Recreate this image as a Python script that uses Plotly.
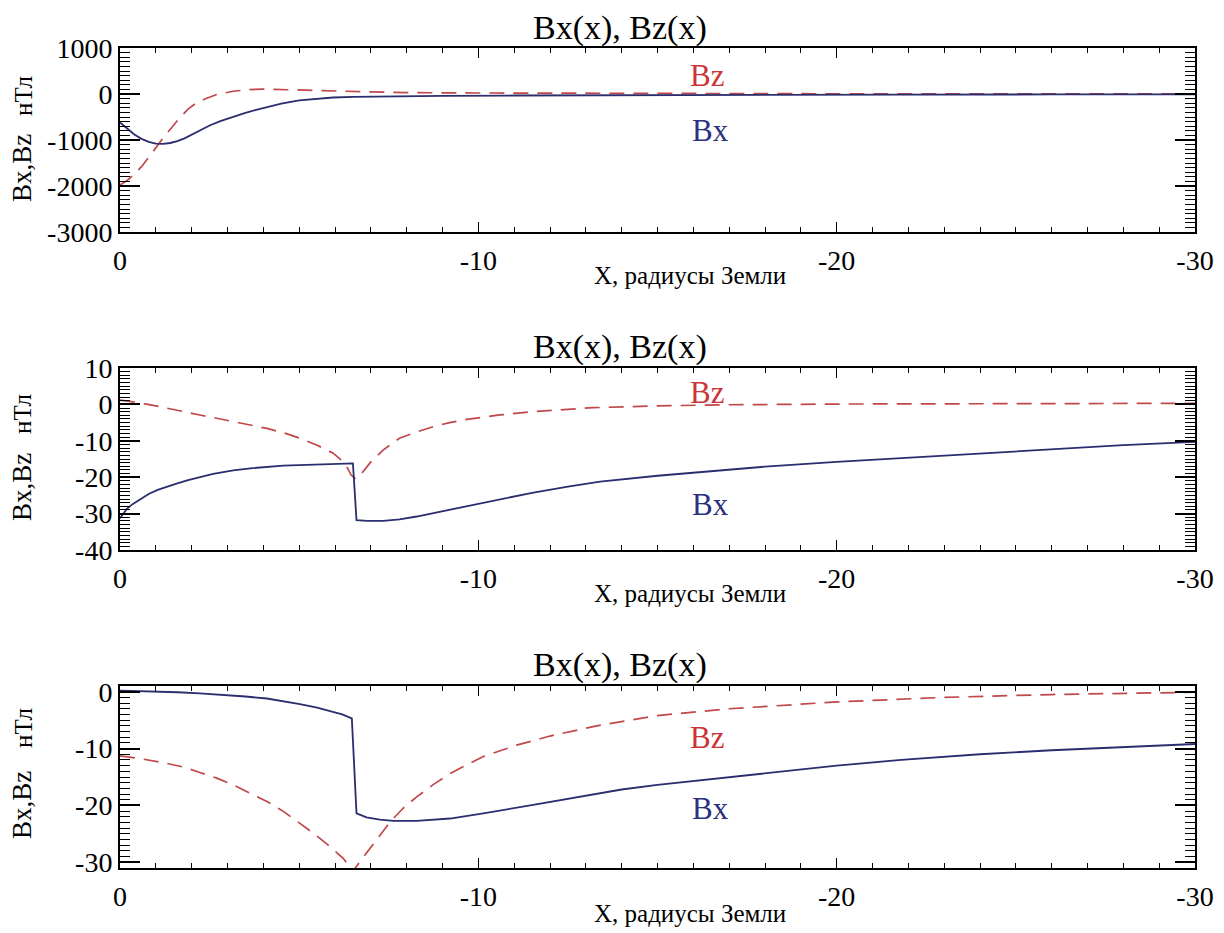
import plotly.graph_objects as go

# ---------------- data ----------------
# Panel 1
p1_bx_x = [0, -0.2, -0.4, -0.6, -0.8, -1.0, -1.2, -1.4, -1.6, -1.8, -2.0, -2.23, -2.5, -2.8, -3.16, -3.5, -3.8, -4.1, -4.5, -5.0, -5.5, -5.95, -6.5, -7, -8, -9, -11, -14, -18, -22, -26, -30]
p1_bx_y = [-620, -760, -880, -975, -1040, -1080, -1085, -1065, -1025, -965, -885, -785, -685, -590, -490, -410, -345, -285, -210, -138, -97, -76, -63, -56, -47, -41, -33, -25, -18, -13, -10, -8]
p1_bz_x = [0, -0.2, -0.4, -0.6, -0.8, -1.0, -1.2, -1.4, -1.67, -1.9, -2.1, -2.42, -2.7, -3.16, -3.6, -4.0, -4.5, -5.0, -5.5, -6.0, -6.9, -8, -10, -12, -15, -20, -25, -30]
p1_bz_y = [-1980, -1880, -1740, -1580, -1380, -1160, -960, -770, -510, -330, -210, -93, -10, 60, 95, 105, 100, 90, 78, 65, 42, 30, 22, 16, 10, 5, 2, 1]

# Panel 2
p2_bx_x = [0, -0.1, -0.2, -0.35, -0.56, -0.8, -1.05, -1.3, -1.6, -1.9, -2.23, -2.6, -3.16, -3.7, -4.56, -5.3, -5.95, -6.5, -6.6, -6.9, -7.35, -7.8, -8.28, -8.84, -8.95, -9.67, -10.6, -11.5, -12.5, -13.4, -15, -16.2, -18, -20, -22, -24, -26, -28, -30]
p2_bx_y = [-31.3, -29.8, -28.6, -27.4, -26.0, -24.6, -23.5, -22.6, -21.7, -20.8, -19.9, -19.1, -18.1, -17.5, -16.8, -16.5, -16.35, -16.2, -31.8, -32.0, -32.0, -31.6, -30.8, -29.7, -29.5, -28.1, -26.1, -24.3, -22.6, -21.2, -19.6, -18.6, -17.1, -15.8, -14.6, -13.4, -12.3, -11.2, -10.3]
p2_bz_x = [0, -0.5, -1.1, -1.6, -2.23, -2.7, -3.16, -3.6, -4.1, -4.6, -5.02, -5.5, -5.95, -6.15, -6.33, -6.45, -6.58, -6.75, -7.0, -7.35, -7.8, -8.3, -8.75, -9.2, -9.68, -10.6, -11.5, -12.5, -13.2, -15, -17, -20, -25, -30]
p2_bz_y = [1.2, 0.5, -0.6, -1.7, -2.9, -3.8, -4.7, -5.6, -6.6, -7.9, -9.3, -11.2, -13.4, -15.1, -17.1, -19.4, -20.5, -18.9, -15.8, -12.5, -9.3, -7.5, -6.1, -5.0, -4.1, -2.9, -2.0, -1.35, -0.9, -0.4, -0.1, 0.1, 0.2, 0.3]

# Panel 3
p3_bx_x = [0, -1.0, -1.6, -2.23, -2.8, -3.5, -4.1, -4.5, -5.02, -5.5, -5.95, -6.2, -6.47, -6.6, -6.88, -7.25, -7.63, -8.28, -9.21, -10.14, -11.53, -12.93, -14.0, -15, -16.2, -18, -20, -21.8, -24, -26, -28, -30]
p3_bx_y = [0.2, 0.05, -0.1, -0.3, -0.5, -0.85, -1.2, -1.6, -2.2, -2.8, -3.5, -4.0, -4.7, -21.4, -22.1, -22.5, -22.7, -22.7, -22.3, -21.4, -19.9, -18.3, -17.2, -16.4, -15.6, -14.3, -13.0, -12.0, -11.0, -10.3, -9.7, -9.2]
p3_bz_x = [0, -0.6, -1.3, -1.8, -2.23, -2.7, -3.16, -3.6, -4.1, -4.55, -5.02, -5.4, -5.76, -6.0, -6.23, -6.53, -6.56, -6.85, -7.16, -7.54, -7.9, -8.28, -8.75, -9.21, -9.7, -10.14, -11.07, -12.0, -13.3, -15, -17, -20, -23, -26, -30]
p3_bz_y = [-11.3, -11.8, -12.6, -13.3, -14.2, -15.2, -16.4, -17.7, -19.3, -21.0, -23.1, -24.9, -26.7, -28.0, -29.3, -31.8, -31.05, -28.6, -26.1, -22.9, -20.5, -18.5, -16.3, -14.4, -12.8, -11.4, -9.4, -7.8, -6.0, -4.2, -3.0, -1.8, -1.0, -0.5, -0.1]

x_tick_vals = [0, -10, -20, -30]
x_tick_text = ["0", "-10", "-20", "-30"]
y_tick_vals = [
    [1000, 0, -1000, -2000, -3000],
    [10, 0, -10, -20, -30, -40],
    [0, -10, -20, -30],
]
y_tick_text = [
    ["1000", "0", "-1000", "-2000", "-3000"],
    ["10", "0", "-10", "-20", "-30", "-40"],
    ["0", "-10", "-20", "-30"],
]
y_ranges = [[-3000, 1000], [-40, 10], [-31, 1]]
y_minor = [100, 1, 1]
title_text = "Bx(x), Bz(x)"
x_title = "X, радиусы Земли"
y_title_a = "Bx,Bz"
y_title_b = "нТл"

panels = [
    (p1_bx_x, p1_bx_y, p1_bz_x, p1_bz_y),
    (p2_bx_x, p2_bx_y, p2_bz_x, p2_bz_y),
    (p3_bx_x, p3_bx_y, p3_bz_x, p3_bz_y),
]

# ---------------- layout geometry ----------------
# page body has an 8px margin, so the figure is drawn 8px smaller and
# all reference pixel positions are shifted by OFF
OFF = 8
W, H = 1224 - OFF, 933 - OFF
LEFT, RIGHT = 120 - OFF, 1195 - OFF
tops = [48 - OFF, 368 - OFF, 686 - OFF]
bottoms = [232 - OFF, 550 - OFF, 868 - OFF]
FONT = "Liberation Serif, Times New Roman, Times, serif"
BX_COL = "#2a2d6e"
BZ_COL = "#c0474a"
BX_TXT = "#2b3080"
BZ_TXT = "#cc3538"


def px(xpix):
    return (xpix - OFF) / W


def py(ypix):
    return 1 - (ypix - OFF) / H


fig = go.Figure()
layout = dict(
    width=W, height=H,
    margin=dict(l=0, r=0, t=0, b=0, autoexpand=False),
    paper_bgcolor="white", plot_bgcolor="white",
    showlegend=False,
    font=dict(family=FONT, color="black"),
    annotations=[],
)

bz_label_y = [75, 393, 737]
bx_label_y = [131, 505, 808]
title_y = [28, 347, 665]
xtitle_y = [276, 593, 913]
ya_center = [168, 487, 805]
yb_center = [96, 414, 728]


def ann(text, x, y, size, color="black", angle=0):
    return dict(text=text, x=px(x), y=py(y), xref="paper", yref="paper",
                xanchor="center", yanchor="middle", showarrow=False,
                textangle=angle, font=dict(family=FONT, size=size, color=color))


for i, (bxx, bxy, bzx, bzy) in enumerate(panels):
    xa = "x" if i == 0 else f"x{i+1}"
    ya = "y" if i == 0 else f"y{i+1}"
    fig.add_trace(go.Scatter(x=bzx, y=bzy, mode="lines", xaxis=xa, yaxis=ya,
                             line=dict(color=BZ_COL, width=1.7, dash="15px,9px")))
    fig.add_trace(go.Scatter(x=bxx, y=bxy, mode="lines", xaxis=xa, yaxis=ya,
                             line=dict(color=BX_COL, width=1.8)))
    kx = "xaxis" if i == 0 else f"xaxis{i+1}"
    ky = "yaxis" if i == 0 else f"yaxis{i+1}"
    layout[kx] = dict(
        domain=[LEFT / W, RIGHT / W], anchor=ya, range=[0, -30], automargin=False,
        tickmode="array", tickvals=x_tick_vals, ticktext=x_tick_text,
        ticks="inside", ticklen=10, tickwidth=1.2, tickcolor="black",
        minor=dict(dtick=1, tick0=0, ticks="inside", ticklen=5, tickwidth=1, tickcolor="black"),
        showline=True, linewidth=2, linecolor="black", mirror="allticks",
        showgrid=False, zeroline=False,
        tickfont=dict(family=FONT, size=28, color="black"),
        ticklabelstandoff=2,
    )
    layout[ky] = dict(
        domain=[1 - bottoms[i] / H, 1 - tops[i] / H], anchor=xa, range=y_ranges[i], automargin=False,
        tickmode="array", tickvals=y_tick_vals[i], ticktext=y_tick_text[i],
        ticks="inside", ticklen=20, tickwidth=1.5, tickcolor="black",
        minor=dict(dtick=y_minor[i], tick0=0, ticks="inside", ticklen=10, tickwidth=1.2, tickcolor="black"),
        showline=True, linewidth=2, linecolor="black", mirror="allticks",
        showgrid=False, zeroline=False,
        tickfont=dict(family=FONT, size=28, color="black"),
        ticklabelstandoff=0,
    )
    layout["annotations"] += [
        ann(title_text, 620, title_y[i], 34),
        ann(x_title, 690, xtitle_y[i], 25),
        ann(y_title_a, 22, ya_center[i], 27, angle=-90),
        ann(y_title_b, 23, yb_center[i], 25, angle=-90),
        ann("Bz", 707, bz_label_y[i], 31, BZ_TXT),
        ann("Bx", 710, bx_label_y[i], 31, BX_TXT),
    ]

fig.update_layout(**layout)
fig.write_html("out.html")
